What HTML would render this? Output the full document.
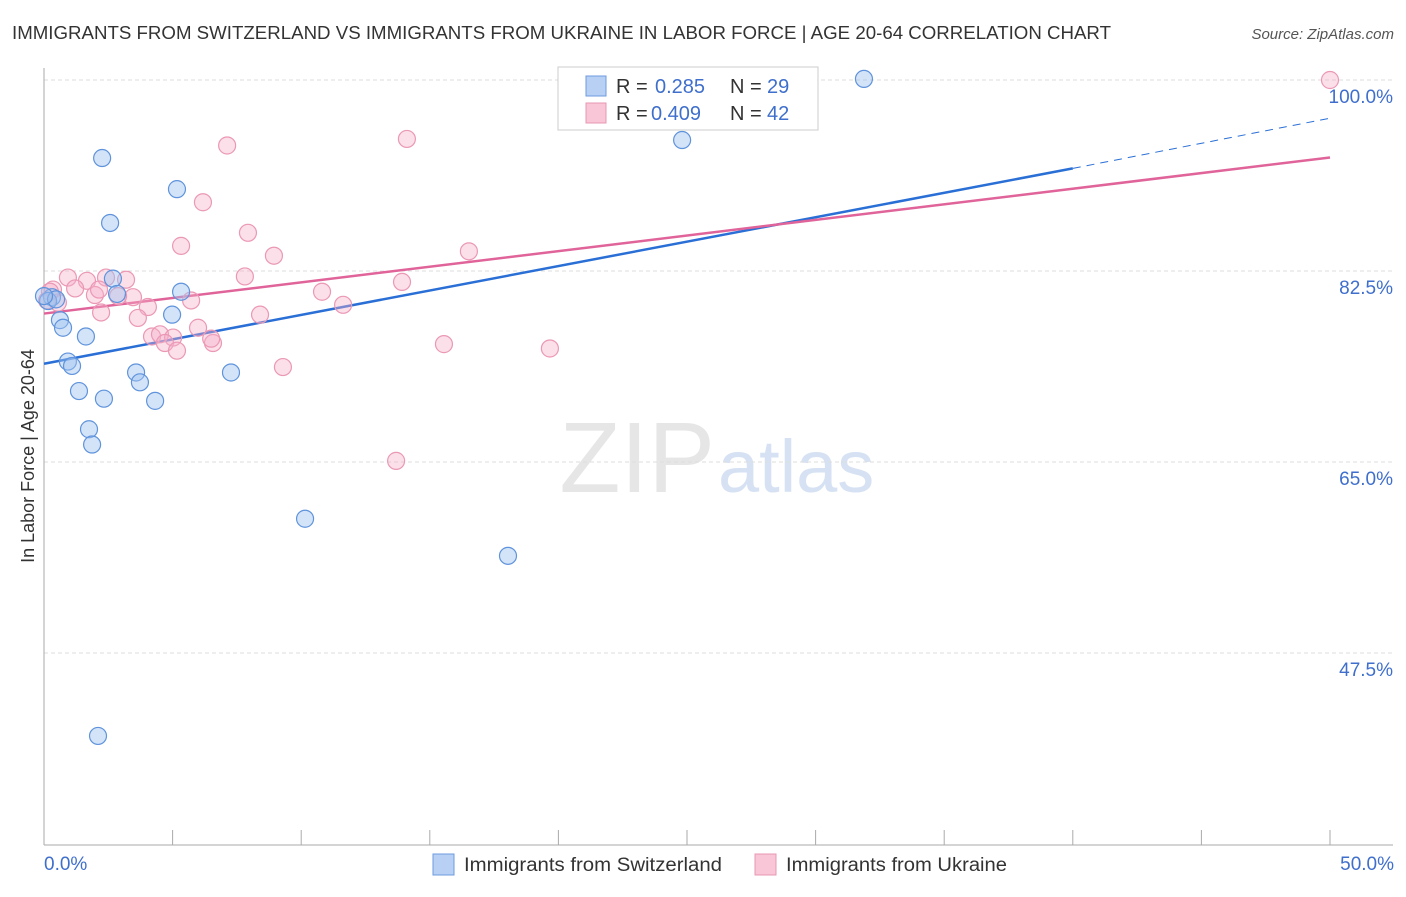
<!DOCTYPE html>
<html><head><meta charset="utf-8"><style>
body{margin:0;background:#fff;font-family:"Liberation Sans",sans-serif}
svg text{font-family:"Liberation Sans",sans-serif}
</style></head><body>
<svg id="chart" width="1406" height="892" xmlns="http://www.w3.org/2000/svg">
<text x="12" y="39" font-size="18" fill="#333" textLength="1099" lengthAdjust="spacingAndGlyphs">IMMIGRANTS FROM SWITZERLAND VS IMMIGRANTS FROM UKRAINE IN LABOR FORCE | AGE 20-64 CORRELATION CHART</text>
<text x="1394" y="39" font-size="15" fill="#555" font-style="italic" text-anchor="end">Source: ZipAtlas.com</text>
<text x="715" y="492" font-size="100" fill="#e6e6e6" text-anchor="end" font-family="Liberation Serif">ZIP</text>
<text x="718" y="492" font-size="74" fill="#d6e2f3">atlas</text>
<g id="grid"></g><g id="axes"></g><g id="lines"></g><g id="pts"></g>
<text transform="translate(34,456) rotate(-90)" font-size="18" fill="#333" text-anchor="middle">In Labor Force | Age 20-64</text>
<text x="44" y="870" font-size="19" fill="#3f6fcc">0.0%</text>
<text x="1394" y="870" font-size="19" fill="#3f6fcc" text-anchor="end">50.0%</text>
<g>
<rect x="558" y="67" width="260" height="63" fill="#fff" stroke="#ccc"/>
<rect x="586" y="76" width="20" height="20" fill="#b8d0f3" stroke="#6d9be0"/>
<rect x="586" y="103" width="20" height="20" fill="#f8c6d6" stroke="#e897b2"/>
<text x="616" y="93" font-size="20" fill="#333">R = <tspan fill="#3f6fcc" x="655">0.285</tspan><tspan x="730">N = </tspan><tspan fill="#3f6fcc" x="767">29</tspan></text>
<text x="616" y="120" font-size="20" fill="#333">R = <tspan fill="#3f6fcc" x="651">0.409</tspan><tspan x="730">N = </tspan><tspan fill="#3f6fcc" x="767">42</tspan></text>
</g>
<g>
<rect x="433" y="854" width="21" height="21" fill="#b8d0f3" stroke="#6d9be0"/>
<text x="464" y="871" font-size="19" fill="#333" textLength="258" lengthAdjust="spacingAndGlyphs">Immigrants from Switzerland</text>
<rect x="755" y="854" width="21" height="21" fill="#f8c6d6" stroke="#e897b2"/>
<text x="786" y="871" font-size="19" fill="#333" textLength="221" lengthAdjust="spacingAndGlyphs">Immigrants from Ukraine</text>
</g>
</svg>
<script>
const yTicks=[100,82.5,65,47.5];
const xTickVals=[0,5,10,15,20,25,30,35,40,45,50];
const blueX=[31.88,2.26,24.81,5.17,2.57,2.68,5.33,2.84,0.31,0.16,0.47,0.62,0.74,1.63,4.98,0.93,1.09,3.58,3.73,7.27,1.36,2.33,4.32,1.75,1.87,10.15,18.04,2.10,0.0];
const blueY=[100.1,92.85,94.5,90.0,86.9,81.8,80.6,80.4,80.1,79.75,79.9,78.0,77.3,76.5,78.5,74.2,73.8,73.2,72.3,73.2,71.5,70.8,70.6,68.0,66.6,59.8,56.4,39.9,80.2];
const pinkX=[50,14.11,7.12,6.18,7.93,5.33,8.94,16.52,7.81,13.92,0.93,1.67,2.41,3.19,1.98,3.46,5.72,4.04,2.22,3.65,8.40,5.99,4.20,4.51,5.02,4.70,5.17,6.57,9.29,0.35,0.54,0.12,1.21,10.81,11.63,15.55,19.67,13.69,2.14,2.88,6.5,0.23];
const pinkY=[100,94.6,94.0,88.8,86.0,84.8,83.9,84.3,82.0,81.5,81.9,81.6,81.9,81.7,80.3,80.1,79.8,79.2,78.7,78.2,78.5,77.3,76.5,76.7,76.4,75.9,75.2,75.9,73.7,80.8,79.6,79.8,80.9,80.6,79.4,75.8,75.4,65.1,80.8,80.2,76.3,80.6];
const blueFit=[74.0,91.9,96.5];
const pinkFit=[78.6,92.9];
const NS='http://www.w3.org/2000/svg';
const X=v=>44+v*25.72, Y=v=>80+(100-v)*10.914;
function mk(p,t,a){const e=document.createElementNS(NS,t);for(const k in a)e.setAttribute(k,a[k]);document.getElementById(p).appendChild(e);return e;}
yTicks.forEach(t=>{
 const l=mk('grid','line',{x1:44,x2:1393,y1:Y(t),y2:Y(t),stroke:'#ddd','stroke-dasharray':'4,3'});
 
 
 const tx=mk('grid','text',{x:1393,y:Y(t)+23,'font-size':19,fill:'#3f6fcc','text-anchor':'end'});
 tx.textContent=t.toFixed(1)+'%';
 
 
});
let ax=mk('axes','line',{x1:44,x2:44,y1:68,y2:845,stroke:'#aaa'});


ax=mk('axes','line',{x1:44,x2:1393,y1:845,y2:845,stroke:'#aaa'});


xTickVals.forEach(t=>{
 const l=mk('axes','line',{x1:X(t),x2:X(t),y1:830,y2:845,stroke:'#aaa'});
 
 
});
let ln=mk('lines','line',{x1:X(0),y1:Y(blueFit[0]),x2:X(40),y2:Y(blueFit[1]),stroke:'#2a6fd6','stroke-width':2.5});


ln=mk('lines','line',{x1:X(40),y1:Y(blueFit[1]),x2:X(50),y2:Y(blueFit[2]),stroke:'#2a6fd6','stroke-width':1,'stroke-dasharray':'8,6'});


ln=mk('lines','line',{x1:X(0),y1:Y(pinkFit[0]),x2:X(50),y2:Y(pinkFit[1]),stroke:'#e0649a','stroke-width':2.5});


pinkX.forEach((v,i)=>{
 const c=mk('pts','circle',{cx:X(v),cy:Y(pinkY[i]),r:8.5,fill:'rgba(246,176,200,0.4)',stroke:'#eb98b5','stroke-width':1.2});
 
 
});
blueX.forEach((v,i)=>{
 const c=mk('pts','circle',{cx:X(v),cy:Y(blueY[i]),r:8.5,fill:'rgba(160,195,240,0.45)',stroke:'#5f93dc','stroke-width':1.2});
 
 
});
</script>
</body></html>
